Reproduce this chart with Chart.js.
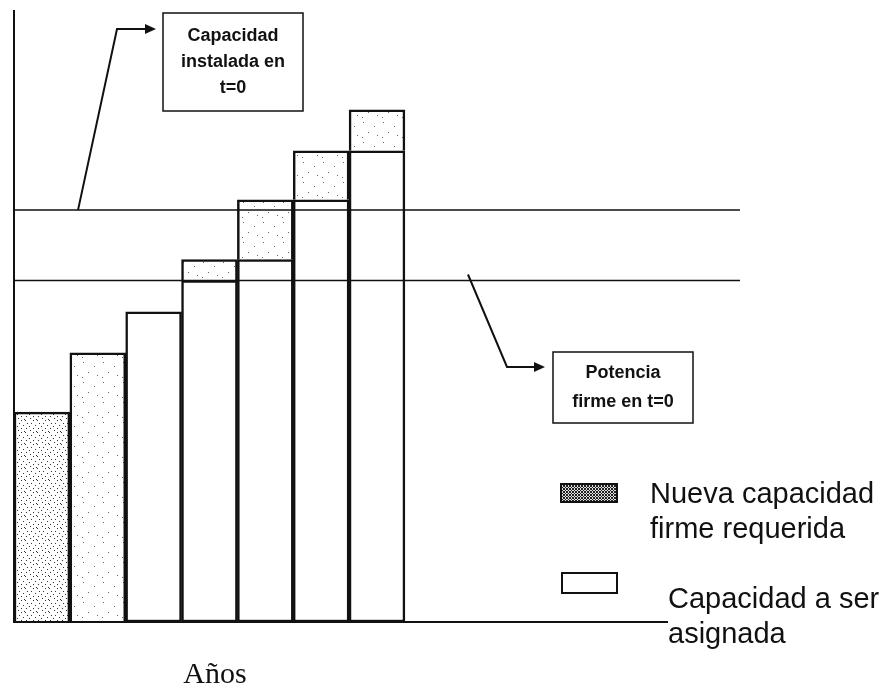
<!DOCTYPE html>
<html>
<head>
<meta charset="utf-8">
<style>
  html, body { margin: 0; padding: 0; background: #fff; }
  #wrap { width: 888px; height: 687px; position: relative; }
</style>
</head>
<body>
<div id="wrap"><canvas id="chart" width="888" height="687"></canvas></div>
<script src="https://cdn.jsdelivr.net/npm/chart.js"></script>
<script>
// years on the x axis (only the first 7 carry bars)
const anios = ['1', '2', '3', '4', '5', '6', '7', '8', '9', '10', '11', '12', '13'];
// white part: capacity already assigned
const capacidadAsignada = [null, null, 50.7, 55.8, 59.2, 69.0, 77.0];
// stippled part: new firm capacity required
const nuevaCapacidad = [34.3, 44.0, null, 3.4, 9.8, 8.0, 6.7];
// reference levels
const capacidadInstalada = 67.3;
const potenciaFirme = 55.8;

function makePattern(size, dots, bg, fg) {
  const c = document.createElement('canvas');
  c.width = c.height = size;
  const g = c.getContext('2d');
  g.fillStyle = bg;
  g.fillRect(0, 0, size, size);
  g.fillStyle = fg;
  dots.forEach(d => g.fillRect(d[0], d[1], 1, 1));
  return g.createPattern(c, 'repeat');
}
const densePat = makePattern(12, [[1,0],[9,0],[3,3],[7,3],[11,5],[5,6],[9,8],[2,8],[6,10],[0,11]], '#fff', '#333');
const lightPat = makePattern(20, [[3,2],[14,6],[8,12],[17,15],[2,17]], '#fff', '#666');
const swatchPat = makePattern(3, [[0,0],[1,1],[2,2],[2,0],[0,2]], '#ddd', '#222');

function arrow(ctx, pts) {
  ctx.beginPath();
  ctx.moveTo(pts[0][0], pts[0][1]);
  for (let i = 1; i < pts.length; i++) ctx.lineTo(pts[i][0], pts[i][1]);
  ctx.stroke();
  const [x, y] = pts[pts.length - 1];
  ctx.beginPath();
  ctx.moveTo(x + 10, y);
  ctx.lineTo(x - 1, y - 5);
  ctx.lineTo(x - 1, y + 5);
  ctx.closePath();
  ctx.fill();
}

function box(ctx, x, y, w, h, lines, lh) {
  ctx.lineWidth = 1.5;
  ctx.strokeRect(x, y, w, h);
  ctx.font = 'bold 18px "Liberation Sans", Arial, sans-serif';
  ctx.textAlign = 'center';
  ctx.textBaseline = 'middle';
  const cx = x + w / 2;
  const y0 = y + h / 2 - (lines.length - 1) * lh / 2;
  lines.forEach((t, i) => ctx.fillText(t, cx, y0 + i * lh));
}

const extras = {
  id: 'extras',
  afterDatasetsDraw(chart) {
    const ctx = chart.ctx;
    const a = chart.chartArea;
    const ys = chart.scales.y;
    ctx.save();
    ctx.strokeStyle = '#111';
    ctx.fillStyle = '#111';

    // reference lines
    ctx.lineWidth = 1.5;
    [capacidadInstalada, potenciaFirme].forEach(v => {
      const y = ys.getPixelForValue(v);
      ctx.beginPath();
      ctx.moveTo(a.left, y);
      ctx.lineTo(a.right, y);
      ctx.stroke();
    });

    // axes
    ctx.lineWidth = 2;
    ctx.beginPath();
    ctx.moveTo(a.left, a.top);
    ctx.lineTo(a.left, a.bottom);
    ctx.lineTo(668, a.bottom);
    ctx.stroke();

    // annotation arrows
    const yCap = ys.getPixelForValue(capacidadInstalada);
    const yPot = ys.getPixelForValue(potenciaFirme);
    ctx.lineWidth = 2;
    arrow(ctx, [[78, yCap], [117, 29], [146, 29]]);
    arrow(ctx, [[468, yPot - 6], [507, 367], [535, 367]]);

    // annotation boxes
    box(ctx, 163, 13, 140, 98, ['Capacidad', 'instalada en', 't=0'], 26);
    box(ctx, 553, 352, 140, 71, ['Potencia', 'firme en t=0'], 29);

    // legend
    ctx.lineWidth = 2;
    ctx.fillStyle = swatchPat;
    ctx.fillRect(561, 484, 56, 18);
    ctx.strokeRect(561, 484, 56, 18);
    ctx.fillStyle = '#fff';
    ctx.fillRect(562, 573, 55, 20);
    ctx.strokeRect(562, 573, 55, 20);
    ctx.fillStyle = '#111';
    ctx.font = '29px "Liberation Sans", Arial, sans-serif';
    ctx.textAlign = 'left';
    ctx.textBaseline = 'middle';
    ctx.fillText('Nueva capacidad', 650, 495);
    ctx.fillText('firme requerida', 650, 530);
    ctx.fillText('Capacidad a ser', 668, 600);
    ctx.fillText('asignada', 668, 635);

    // x axis title
    ctx.font = '30px "Liberation Serif", "Times New Roman", serif';
    ctx.textAlign = 'center';
    ctx.fillText('Años', 215, 675);
    ctx.restore();
  }
};

new Chart(document.getElementById('chart').getContext('2d'), {
  type: 'bar',
  data: {
    labels: anios,
    datasets: [
      {
        label: 'Capacidad a ser asignada',
        data: capacidadAsignada,
        backgroundColor: '#fff',
        borderColor: '#111',
        borderWidth: 2.5,
        borderSkipped: false
      },
      {
        label: 'Nueva capacidad firme requerida',
        data: nuevaCapacidad,
        backgroundColor: nuevaCapacidad.map((v, i) => i === 0 ? densePat : lightPat),
        borderColor: '#111',
        borderWidth: 2.5,
        borderSkipped: 'bottom'
      }
    ]
  },
  options: {
    responsive: false,
    animation: false,
    layout: { padding: { left: 14, top: 10, right: 148, bottom: 65 } },
    datasets: { bar: { barPercentage: 1, categoryPercentage: 1 } },
    scales: {
      x: { stacked: true, display: false },
      y: { stacked: true, display: false, min: 0, max: 100 }
    },
    plugins: { legend: { display: false }, tooltip: { enabled: false } }
  },
  plugins: [extras]
});
</script>
</body>
</html>
